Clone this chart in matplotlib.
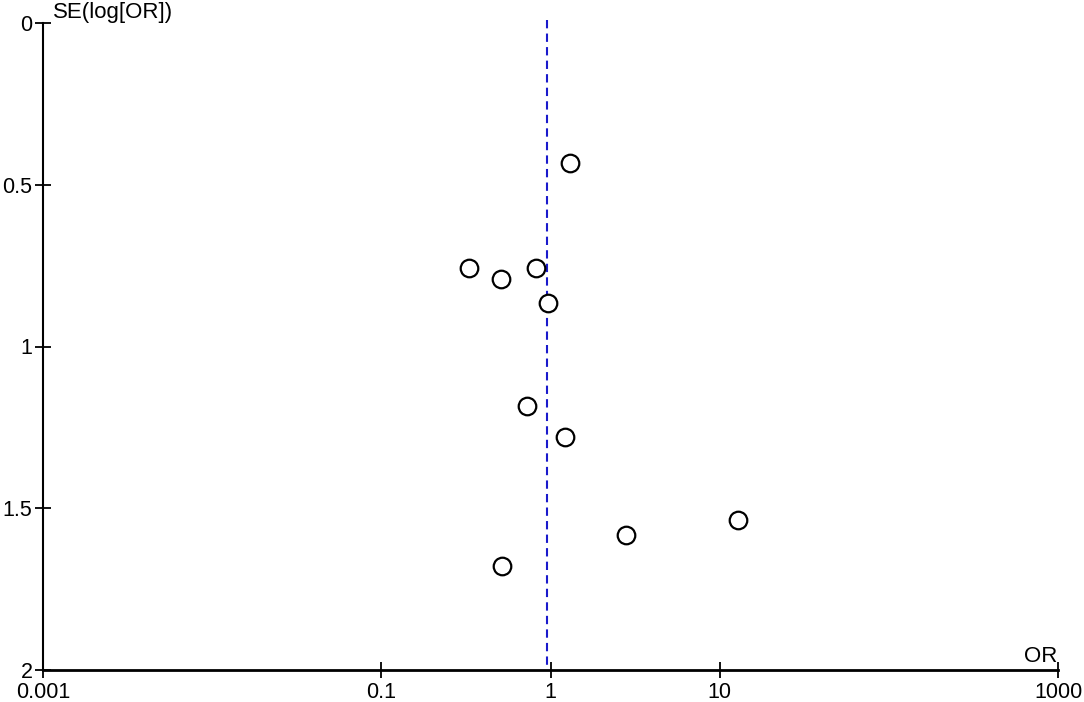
import matplotlib
matplotlib.use("Agg")
import matplotlib.pyplot as plt
from matplotlib.ticker import FixedLocator, NullLocator

plt.rcParams['font.family'] = ['Liberation Sans', 'DejaVu Sans']

# study estimates
odds_ratio = [1.30, 0.33, 0.51, 0.82, 0.97, 0.73, 1.22, 2.80, 12.8, 0.52]
se_log_or = [0.433, 0.756, 0.790, 0.756, 0.865, 1.184, 1.280, 1.582, 1.536, 1.678]
pooled_or = 0.953

x_ticks = [0.001, 0.1, 1, 10, 1000]
x_tick_labels = ['0.001', '0.1', '1', '10', '1000']
y_ticks = [0, 0.5, 1, 1.5, 2]
y_tick_labels = ['0', '0.5', '1', '1.5', '2']

fig = plt.figure(figsize=(10.84, 7.02), dpi=100)
ax = fig.add_axes([43 / 1084, 32 / 702, 1015 / 1084, 647 / 702])

ax.plot([pooled_or, pooled_or], [-0.01, 1.985], '--', color='#1a1acc',
        linewidth=1.5, dashes=(4, 2.5), zorder=1, clip_on=False)
ax.scatter(odds_ratio, se_log_or, s=160, facecolors='white',
           edgecolors='black', linewidths=1.6, zorder=3)

ax.set_xscale('log')
ax.set_xlim(0.001, 1000)
ax.set_ylim(2, 0)
ax.xaxis.set_major_locator(FixedLocator(x_ticks))
ax.xaxis.set_minor_locator(NullLocator())
ax.set_xticklabels(x_tick_labels)
ax.set_yticks(y_ticks)
ax.set_yticklabels(y_tick_labels)

for side in ['top', 'right']:
    ax.spines[side].set_visible(False)
ax.spines['left'].set_linewidth(1.5)
ax.spines['bottom'].set_linewidth(2)
ax.tick_params(direction='inout', length=11, width=1.3, labelsize=15.5,
               colors='black')
ax.tick_params(axis='x', pad=3.5)
ax.tick_params(axis='y', pad=2)

ax.text(0.01, 1 + 5 / 647, 'SE(log[OR])', transform=ax.transAxes,
        fontsize=16, ha='left', va='baseline')
ax.text(0.999, 8 / 647, 'OR', transform=ax.transAxes, fontsize=16,
        ha='right', va='baseline')

fig.savefig('out.png', dpi=100)
